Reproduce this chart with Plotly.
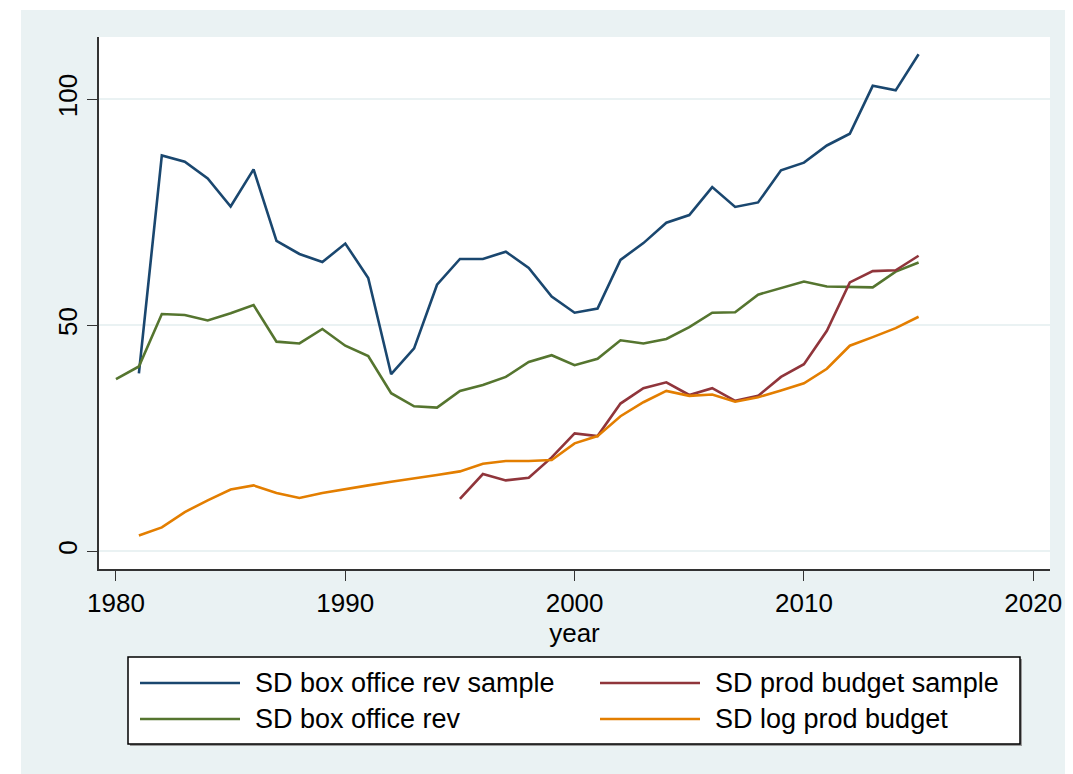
import plotly.graph_objects as go

years = list(range(1980, 2016))

sd_box_office_rev_sample = [None, 39.4, 87.6, 86.2, 82.5, 76.3, 84.5, 68.7, 65.8, 64.0,
                            68.1, 60.5, 39.2, 44.9, 59.0, 64.7, 64.7, 66.3, 62.7, 56.4,
                            52.8, 53.7, 64.5, 68.2, 72.7, 74.4, 80.6, 76.2, 77.2, 84.3,
                            86.0, 89.8, 92.4, 103.0, 102.0, 110.0]
sd_box_office_rev = [38.1, 40.9, 52.5, 52.3, 51.1, 52.7, 54.5, 46.4, 46.0, 49.2,
                     45.5, 43.2, 35.0, 32.1, 31.8, 35.5, 36.8, 38.6, 41.9, 43.4,
                     41.2, 42.6, 46.7, 46.0, 47.0, 49.6, 52.8, 52.9, 56.8, 58.3,
                     59.7, 58.6, 58.5, 58.4, 61.9, 63.9]
sd_prod_budget_sample = [None] * 15 + [11.6, 17.1, 15.7, 16.3, 20.8,
                                        26.1, 25.5, 32.7, 36.1, 37.4, 34.6, 36.1, 33.3, 34.4, 38.6,
                                        41.4, 48.8, 59.5, 62.0, 62.2, 65.4]
sd_log_prod_budget = [None, 3.5, 5.3, 8.7, 11.3, 13.7, 14.6, 12.9, 11.8, 12.9,
                      13.8, 14.6, 15.4, 16.1, 16.9, 17.7, 19.4, 20.0, 20.0, 20.2,
                      23.9, 25.5, 29.9, 33.0, 35.5, 34.4, 34.7, 33.1, 34.1, 35.6,
                      37.2, 40.4, 45.5, 47.4, 49.4, 51.9]

series_names = ["SD box office rev sample", "SD box office rev",
                "SD prod budget sample", "SD log prod budget"]
series_values = [sd_box_office_rev_sample, sd_box_office_rev,
                 sd_prod_budget_sample, sd_log_prod_budget]
series_colors = ["#1A476F", "#55752F", "#90353B", "#E37E00"]

x_ticks = [1980, 1990, 2000, 2010, 2020]
y_ticks = [0, 50, 100]

# the page body adds an 8px offset; the figure is sized so it ends at the window edge
OFF = 8
W, H = 1073 - OFF, 774 - OFF
L, R, T, B = 99 - OFF, 23, 37 - OFF, 205
PW, PH = W - L - R, H - T - B
BG = "#EAF2F3"
FONT = "Liberation Sans, Arial, sans-serif"


def px_x(px):
    return (px - OFF - L) / PW


def px_y(py):
    return (H - B - (py - OFF)) / PH


fig = go.Figure()
for name, vals, col in zip(series_names, series_values, series_colors):
    fig.add_trace(go.Scatter(x=years, y=vals, mode="lines", name=name,
                             line=dict(color=col, width=2.6),
                             connectgaps=False, showlegend=False))

shapes = []
# white strips outside the graph region (image crop edges)
shapes.append(dict(type="rect", xref="paper", yref="paper", x0=-1, x1=px_x(21),
                   y0=-1, y1=2, fillcolor="white", line=dict(width=0), layer="above"))
shapes.append(dict(type="rect", xref="paper", yref="paper", x0=-1, x1=2,
                   y0=px_y(10), y1=2, fillcolor="white", line=dict(width=0), layer="above"))
# legend box shadow + box
shapes.append(dict(type="rect", xref="paper", yref="paper",
                   x0=px_x(130), x1=px_x(1022), y0=px_y(746), y1=px_y(659),
                   fillcolor="#9a9a9a", line=dict(width=0), layer="above"))
shapes.append(dict(type="rect", xref="paper", yref="paper",
                   x0=px_x(128), x1=px_x(1020), y0=px_y(744), y1=px_y(657),
                   fillcolor="white", line=dict(color="black", width=1.5), layer="above"))

annotations = []
legend_slots = [(140, 683), (140, 719), (600, 683), (600, 719)]
for (lx, ly), name, col in zip(legend_slots, series_names, series_colors):
    shapes.append(dict(type="line", xref="paper", yref="paper",
                       x0=px_x(lx), x1=px_x(lx + 100), y0=px_y(ly), y1=px_y(ly),
                       line=dict(color=col, width=2.6), layer="above"))
    annotations.append(dict(xref="paper", yref="paper", x=px_x(lx + 113), y=px_y(ly),
                            xanchor="left", yanchor="middle", text=name, showarrow=False,
                            font=dict(family=FONT, size=27, color="black")))

fig.update_layout(
    width=W, height=H,
    margin=dict(l=L, r=R, t=T, b=B, pad=0),
    paper_bgcolor=BG, plot_bgcolor="white",
    showlegend=False,
    font=dict(family=FONT, size=26, color="black"),
    shapes=shapes, annotations=annotations,
)

fig.update_xaxes(range=[1979.26, 2020.73], tickvals=x_ticks,
                 ticks="outside", ticklen=10, tickwidth=1.3, tickcolor="#333333",
                 showline=True, linecolor="#333333", linewidth=1.5,
                 showgrid=False, zeroline=False,
                 title=dict(text="year", font=dict(family=FONT, size=26), standoff=0),
                 tickfont=dict(family=FONT, size=26, color="black"))
fig.update_yaxes(range=[-3.9, 113.8], tickvals=y_ticks,
                 ticks="outside", ticklen=10, tickwidth=1.3, tickcolor="#333333",
                 showline=True, linecolor="#333333", linewidth=1.5,
                 showgrid=True, gridcolor=BG, gridwidth=2, zeroline=False,
                 tickangle=-90,
                 tickfont=dict(family=FONT, size=26, color="black"))

fig.write_html("out.html")
